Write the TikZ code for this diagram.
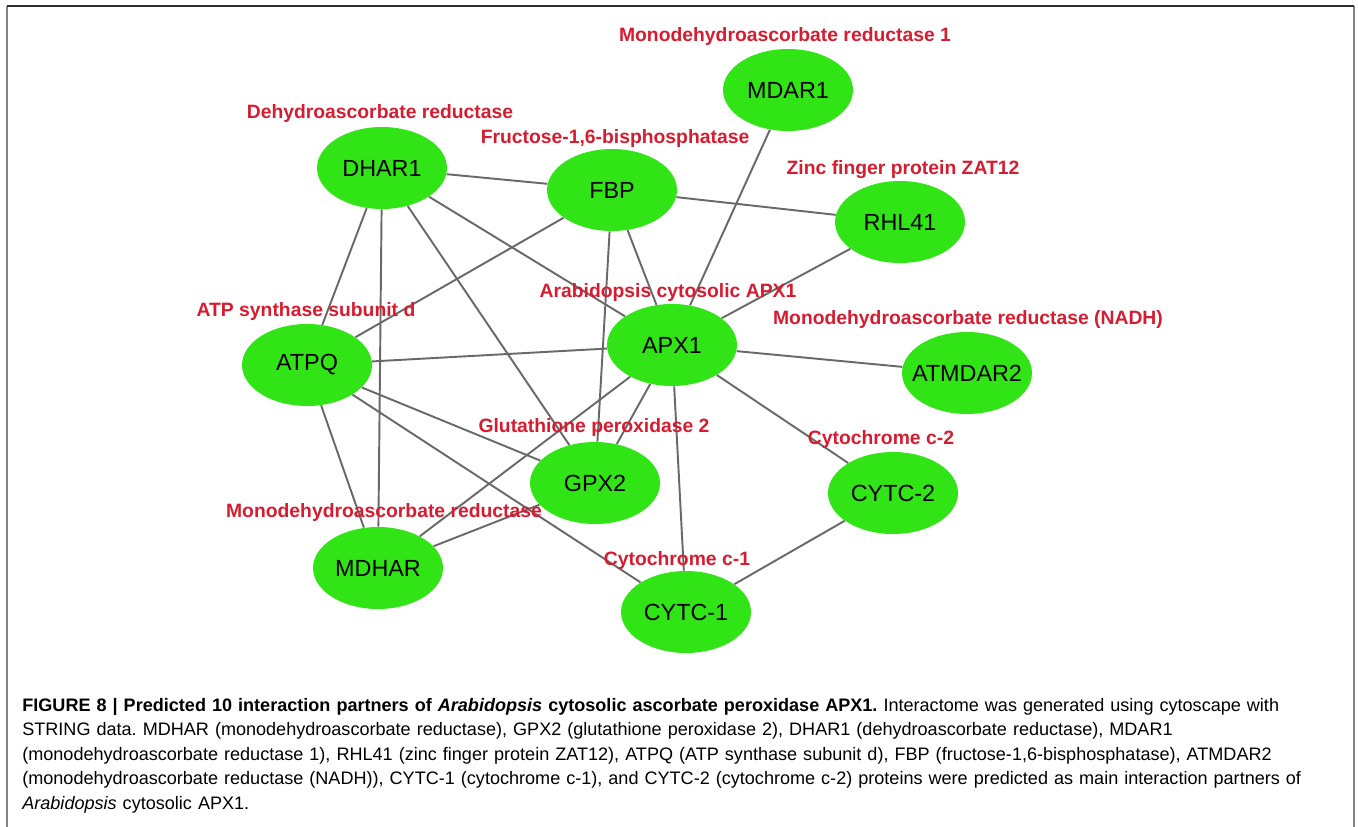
\documentclass[tikz,border=0pt]{standalone}
\usepackage{fontspec}
\setmainfont{Liberation Sans}
\usetikzlibrary{shapes.geometric}
\definecolor{protgreen}{RGB}{48,228,22}
\definecolor{namered}{RGB}{214,28,48}
\definecolor{linkgray}{RGB}{105,105,105}
\definecolor{framegray}{RGB}{130,130,130}
\definecolor{framedark}{RGB}{45,45,45}
\frenchspacing

\begin{document}
\begin{tikzpicture}[x=0.02cm, y=-0.02cm,
			protnode/.style={ellipse, fill=protgreen, minimum width=2.6cm, minimum height=1.64cm, inner sep=0pt, font=\fontsize{13.3}{15}\selectfont},
			protname/.style={text=namered, inner sep=0pt, font=\fontsize{11}{13}\selectfont\bfseries},
			link/.style={draw=linkgray, line width=1.1pt}
		]
		\useasboundingbox (0,0) rectangle (1358,827);
		\draw[framegray, line width=1.6pt] (7,827) -- (7,6);
		\draw[framegray, line width=1.6pt] (1354,827) -- (1354,6);
		\draw[framedark, line width=1.2pt] (7,6) -- (1354,6);

		\node[protnode] (mdar) at (788,90) {MDAR1};
		\node[protnode] (dhar) at (382,168) {DHAR1};
		\node[protnode] (fbp) at (612,190) {FBP};
		\node[protnode] (rhl) at (900,222) {RHL41};
		\node[protnode] (apx) at (672,345) {APX1};
		\node[protnode, inner xsep=-3mm] (atmdar) at (967,373) {ATMDAR2};
		\node[protnode] (atpq) at (307,365) {ATPQ};
		\node[protnode] (gpx) at (595,483) {GPX2};
		\node[protnode] (cytc2) at (893,493) {CYTC-2};
		\node[protnode] (mdhar) at (378,568) {MDHAR};
		\node[protnode] (cytc1) at (686,612) {CYTC-1};

		\draw[link] (dhar) -- (fbp);
		\draw[link] (dhar) -- (atpq);
		\draw[link] (dhar) -- (mdhar);
		\draw[link] (dhar) -- (gpx);
		\draw[link] (dhar) -- (apx);
		\draw[link] (fbp) -- (atpq);
		\draw[link] (fbp) -- (rhl);
		\draw[link] (fbp) -- (gpx);
		\draw[link] (fbp) -- (apx);
		\draw[link] (mdar) -- (apx);
		\draw[link] (rhl) -- (apx);
		\draw[link] (atpq) -- (apx);
		\draw[link] (atpq) -- (gpx);
		\draw[link] (atpq) -- (cytc1);
		\draw[link] (atpq) -- (mdhar);
		\draw[link] (apx) -- (atmdar);
		\draw[link] (apx) -- (cytc2);
		\draw[link] (apx) -- (cytc1);
		\draw[link] (apx) -- (gpx);
		\draw[link] (apx) -- (mdhar);
		\draw[link] (gpx) -- (mdhar);
		\draw[link] (cytc2) -- (cytc1);

		\node[protname] (mdar-t) at (785,37) {Monodehydroascorbate reductase 1};
		\node[protname] (dhar-t) at (380,114) {Dehydroascorbate reductase};
		\node[protname] (fbp-t) at (615,139) {Fructose-1,6-bisphosphatase};
		\node[protname] (rhl-t) at (903,170) {Zinc finger protein ZAT12};
		\node[protname] (apx-t) at (668,293) {Arabidopsis cytosolic APX1};
		\node[protname] (atmdar-t) at (968,320) {Monodehydroascorbate reductase (NADH)};
		\node[protname] (atpq-t) at (306,312) {ATP synthase subunit d};
		\node[protname] (gpx-t) at (594,428) {Glutathione peroxidase 2};
		\node[protname] (cytc2-t) at (881,440) {Cytochrome c-2};
		\node[protname] (mdhar-t) at (384,512) {Monodehydroascorbate reductase};
		\node[protname] (cytc1-t) at (677,560) {Cytochrome c-1};

		\node[anchor=north west, inner sep=0pt, text width=26.6cm, align=left,
			font=\fontsize{10.28}{13.9}\selectfont] (caption) at (22,698) {
			\textbf{FIGURE 8 | Predicted 10 interaction partners of \textit{Arabidopsis} cytosolic ascorbate peroxidase APX1.} Interactome was generated using cytoscape with\\
			STRING data. MDHAR (monodehydroascorbate reductase), GPX2 (glutathione peroxidase 2), DHAR1 (dehydroascorbate reductase), MDAR1\\
			(monodehydroascorbate reductase 1), RHL41 (zinc finger protein ZAT12), ATPQ (ATP synthase subunit d), FBP (fructose-1,6-bisphosphatase), ATMDAR2\\
			(monodehydroascorbate reductase (NADH)), CYTC-1 (cytochrome c-1), and CYTC-2 (cytochrome c-2) proteins were predicted as main interaction partners of\\
			\textit{Arabidopsis} cytosolic APX1.};
	\end{tikzpicture}
\end{document}
